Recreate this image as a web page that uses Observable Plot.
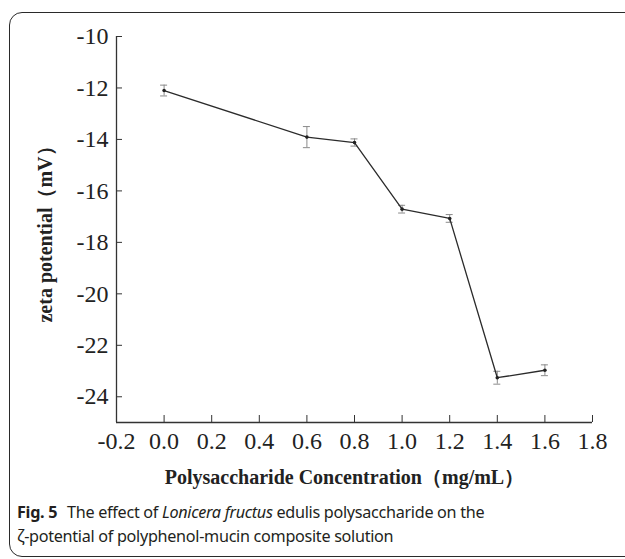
<!DOCTYPE html>
<html>
<head>
<meta charset="utf-8">
<script src="https://cdn.jsdelivr.net/npm/d3@7"></script>
<script src="https://cdn.jsdelivr.net/npm/@observablehq/plot@0.6"></script>
<style>
  html, body { margin: 0; padding: 0; background: #fff; overflow: hidden; }
  #wrap { position: relative; width: 625px; height: 559px; overflow: hidden; }
  #box { position: absolute; left: 9px; top: 12px; width: 720px; height: 543px;
         border: 1.5px solid #2a2a2a; border-radius: 13px; }
  #chart { position: absolute; left: 0; top: 0; }
  #caption { position: absolute; left: 17px; top: 500px; width: 600px;
             font-family: "Noto Sans", "Open Sans", sans-serif; font-size: 16.2px;
             letter-spacing: -0.3px; line-height: 24px; color: #231f20; white-space: nowrap; }
  #caption .fig { font-weight: 700; margin-right: 6px; }
  #caption .it { font-style: italic; }
</style>
</head>
<body>
<div id="wrap">
  <div id="box"></div>
  <div id="chart"></div>
  <div id="caption">
    <div><span class="fig">Fig. 5</span><span> The effect of </span><span class="it">Lonicera fructus</span><span> edulis polysaccharide on the</span></div>
    <div><span>ζ-potential of polyphenol-mucin composite solution</span></div>
  </div>
</div>
<script>
const concentration = [0.0, 0.6, 0.8, 1.0, 1.2, 1.4, 1.6];
const zeta = [-12.10, -13.91, -14.12, -16.71, -17.07, -23.26, -22.97];
const errorBar = [0.21, 0.41, 0.14, 0.15, 0.15, 0.25, 0.21];
const xTicks = [-0.2, 0.0, 0.2, 0.4, 0.6, 0.8, 1.0, 1.2, 1.4, 1.6, 1.8];
const yTicks = [-10, -12, -14, -16, -18, -20, -22, -24];
const xTitle = "Polysaccharide Concentration（mg/mL）";
const yTitle = "zeta potential（mV）";

const data = concentration.map((x, i) => ({x, y: zeta[i], e: errorBar[i]}));
const serif = "'Liberation Serif', 'Times New Roman', serif";

const chart = Plot.plot({
  width: 625,
  height: 490,
  marginLeft: 116,
  marginRight: 33,
  marginTop: 36,
  marginBottom: 68,
  style: {background: "transparent", color: "#222"},
  x: {domain: [-0.2, 1.8]},
  y: {domain: [-25, -10]},
  marks: [
    Plot.ruleX([-0.2], {stroke: "#333", strokeWidth: 1.3}),
    Plot.ruleY([-25], {stroke: "#333", strokeWidth: 1.3}),
    Plot.axisX({ticks: xTicks, tickSize: -7, tickPadding: 16, tickFormat: d => d.toFixed(1),
      fontSize: 24, fontFamily: serif, stroke: "#333", label: null}),
    Plot.axisY({ticks: yTicks, tickSize: -6, tickPadding: 14, tickFormat: d => String(d),
      fontSize: 24, fontFamily: serif, stroke: "#333", label: null}),
    Plot.ruleX(data, {x: "x", y1: d => d.y - d.e, y2: d => d.y + d.e, stroke: "#8a8a8a", strokeWidth: 1}),
    Plot.ruleY(data, {y: d => d.y - d.e, x1: "x", x2: "x", insetLeft: -3.5, insetRight: -3.5, stroke: "#8a8a8a", strokeWidth: 1}),
    Plot.ruleY(data, {y: d => d.y + d.e, x1: "x", x2: "x", insetLeft: -3.5, insetRight: -3.5, stroke: "#8a8a8a", strokeWidth: 1}),
    Plot.line(data, {x: "x", y: "y", stroke: "#2b2b2b", strokeWidth: 1.3}),
    Plot.dot(data, {x: "x", y: "y", r: 1.8, fill: "#222", stroke: null}),
    Plot.text([xTitle], {text: d => d, frameAnchor: "bottom", dy: 55, dx: -10, lineAnchor: "middle",
      textAnchor: "middle", fontSize: 20, fontWeight: "bold", fontFamily: serif, fill: "#222"}),
    Plot.text([yTitle], {text: d => d, frameAnchor: "left", dx: -71, rotate: -90, lineAnchor: "middle",
      textAnchor: "middle", fontSize: 20, fontWeight: "bold", fontFamily: serif, fill: "#222"})
  ]
});
document.getElementById("chart").appendChild(chart);
</script>
</body>
</html>
